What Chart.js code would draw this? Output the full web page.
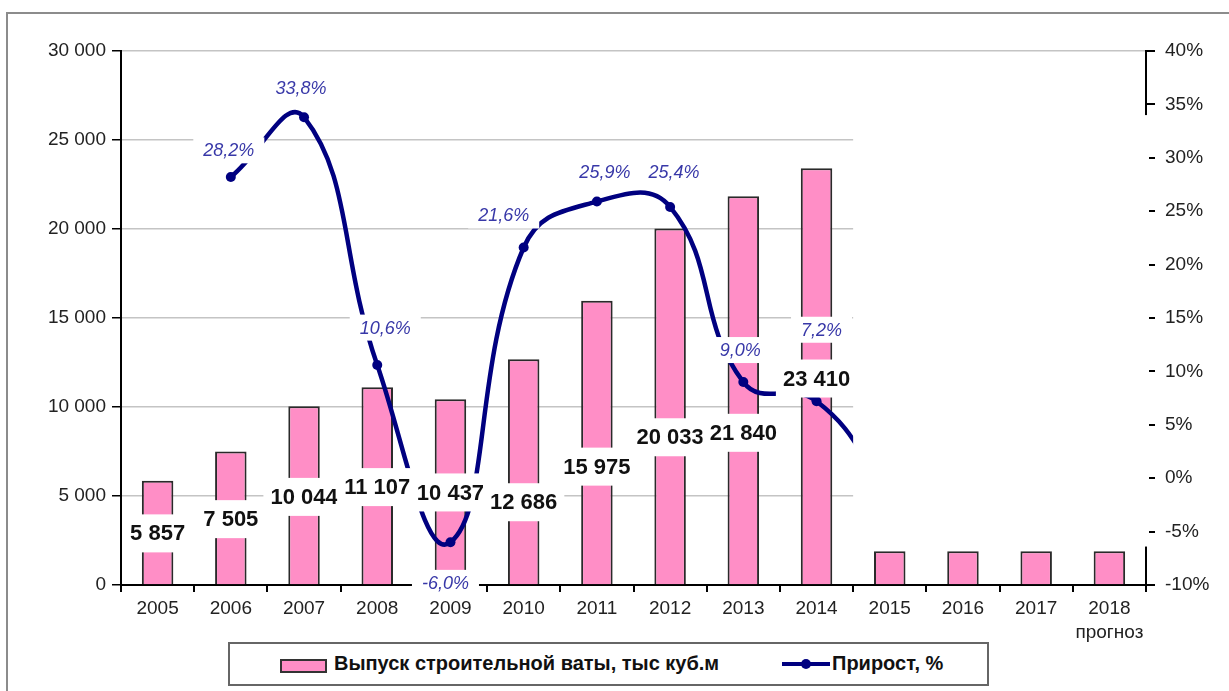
<!DOCTYPE html>
<html>
<head>
<meta charset="utf-8">
<script src="https://cdn.jsdelivr.net/npm/chart.js@4.4.1/dist/chart.umd.min.js"></script>
<style>
  body { margin: 0; background: #fff; }
  #wrap { position: relative; width: 1229px; height: 691px; overflow: hidden; background: #fff; }
  #frame { position: absolute; left: 6px; top: 12px; width: 1260px; height: 720px;
           border-left: 2px solid #8c8c8c; border-top: 2px solid #8c8c8c; }
  #chartBox { position: absolute; left: 0; top: 0; width: 1229px; height: 691px; }
  #legend { position: absolute; left: 228px; top: 642px; width: 757px; height: 40px;
            border: 2px solid #666; background: #fff;
            font: bold 20px "Liberation Sans", Arial, sans-serif; color: #111; }
  #legend span { position: absolute; white-space: nowrap; }
  .sw-bar { left: 50px; top: 15px; width: 43px; height: 10px; background: #ff8ec6; border: 2px solid #333; }
  .sw-line { left: 552px; top: 18px; width: 48px; height: 4px; background: #000080; }
  .sw-dot { left: 571px; top: 15px; width: 10px; height: 10px; border-radius: 50%; background: #000080; }
</style>
</head>
<body>
<div id="wrap">
  <div id="frame"></div>
  <div id="chartBox"><canvas id="chart"></canvas></div>
  <div id="legend">
    <span class="sw-bar"></span>
    <span style="left:104px;top:8px;">Выпуск строительной ваты, тыс куб.м</span>
    <span class="sw-line"></span><span class="sw-dot"></span>
    <span style="left:602px;top:8px;">Прирост, %</span>
  </div>
</div>
<script>
// data
const years = ['2005', '2006', '2007', '2008', '2009', '2010', '2011', '2012', '2013', '2014',
               '2015', '2016', '2017', ['2018', 'прогноз']];
const output = [5857, 7505, 10044, 11107, 10437, 12686, 15975, 20033, 21840, 23410, 1900, 1900, 1900, 1900];
const growth = [null, 28.2, 33.8, 10.6, -6.0, 21.6, 25.9, 25.4, 9.0, 7.2, -1.5, null, null, null];
const outputTicks = { min: 0, max: 30000, step: 5000 };
const growthTicks = { min: -10, max: 40, step: 5 };

// where the labels sit (left axis units / right axis units), as placed in the original
const outputLabelAt = [2.9, 3.7, 4.95, 5.5, 5.2, 4.65, 6.65, 8.3, 8.55, 11.6, null, null, null, null].map(v => v == null ? null : v * 1000);
const growthLabelAt = [null, 30.7, 36.5, 14.1, -9.8, 24.6, 28.7, 28.7, 12.0, 13.9];
const growthLabelDx = [0, -2, -3, 8, -5, -20, 8, 4, -3, 5];

const FONT = '"Liberation Sans", Arial, sans-serif';

function fmtThousands(v) {
  return String(v).replace(/\B(?=(\d{3})+(?!\d))/g, ' ');
}
function fmtPct(v) {
  return v.toFixed(1).replace('.', ',') + '%';
}

const labelsPlugin = {
  id: 'labels',
  afterDatasetsDraw(chart) {
    const ctx = chart.ctx;
    const x = chart.scales.x, y = chart.scales.y, y1 = chart.scales.y1;
    const area = chart.chartArea;

    // blank patch on the right, as in the source picture
    const x9 = x.getPixelForValue(9), x10 = x.getPixelForValue(10);
    const left = x9 + (x10 - x9) * 0.5;
    const top = y1.getPixelForValue(34);
    const bottom = y1.getPixelForValue(-6.4);
    ctx.save();
    ctx.fillStyle = '#fff';
    ctx.fillRect(left, top, area.right + 3 - left, bottom - top);

    ctx.textAlign = 'center';
    ctx.textBaseline = 'middle';

    // bar values
    ctx.font = 'bold 22px ' + FONT;
    output.forEach((v, i) => {
      if (outputLabelAt[i] == null) return;
      const txt = fmtThousands(v);
      const cx = x.getPixelForValue(i);
      const cy = y.getPixelForValue(outputLabelAt[i]);
      const w = ctx.measureText(txt).width + 14;
      ctx.fillStyle = '#fff';
      ctx.fillRect(cx - w / 2, cy - 19, w, 38);
      ctx.fillStyle = '#111';
      ctx.fillText(txt, cx, cy + 1);
    });

    // growth values
    ctx.font = 'italic 18px ' + FONT;
    growth.forEach((v, i) => {
      if (v == null || growthLabelAt[i] == null) return;
      const txt = fmtPct(v);
      const cx = x.getPixelForValue(i) + growthLabelDx[i];
      const cy = y1.getPixelForValue(growthLabelAt[i]);
      const w = ctx.measureText(txt).width + 20;
      ctx.fillStyle = '#fff';
      ctx.fillRect(cx - w / 2, cy - 13, w, 26);
      ctx.fillStyle = '#3838a8';
      ctx.fillText(txt, cx, cy + 1);
    });
    ctx.restore();
  }
};

Chart.defaults.font.family = FONT;
Chart.defaults.color = '#222';

new Chart(document.getElementById('chart'), {
  data: {
    labels: years,
    datasets: [
      {
        type: 'line',
        label: 'Прирост, %',
        data: growth,
        yAxisID: 'y1',
        order: 1,
        borderColor: '#000080',
        borderWidth: 4.5,
        tension: 0.45,
        pointRadius: 5,
        pointBackgroundColor: '#000080',
        pointBorderWidth: 0,
        spanGaps: false
      },
      {
        type: 'bar',
        label: 'Выпуск строительной ваты, тыс куб.м',
        data: output,
        yAxisID: 'y',
        order: 2,
        backgroundColor: '#ff8ec6',
        borderColor: '#2a2a2a',
        borderWidth: 2,
        categoryPercentage: 1,
        barPercentage: 0.43
      }
    ]
  },
  options: {
    responsive: true,
    maintainAspectRatio: false,
    animation: false,
    layout: { padding: { top: 51, left: 0, right: 0, bottom: 0 } },
    plugins: {
      legend: { display: false },
      tooltip: { enabled: false }
    },
    scales: {
      x: {
        offset: true,
        grid: { offset: true, drawOnChartArea: false, drawTicks: true, tickLength: 7, tickColor: '#000', lineWidth: 2 },
        border: { color: '#000', width: 2 },
        ticks: { font: { size: 19, lineHeight: 1.25 }, color: '#222', padding: 5, maxRotation: 0, autoSkip: false },
        afterFit(s) { s.height = 106; }
      },
      y: {
        position: 'left',
        min: outputTicks.min,
        max: outputTicks.max,
        grid: { color: '#c4c4c4', lineWidth: 1.5, tickColor: '#000', tickLength: 9, lineWidth: 1.5 },
        border: { color: '#000', width: 2 },
        ticks: {
          stepSize: outputTicks.step,
          font: { size: 19 },
          color: '#222',
          padding: 6,
          callback: v => fmtThousands(v)
        },
        afterFit(s) { s.width = 121; }
      },
      y1: {
        position: 'right',
        min: growthTicks.min,
        max: growthTicks.max,
        grid: { drawOnChartArea: false, tickColor: '#000', tickLength: 9, lineWidth: 2 },
        border: { color: '#000', width: 2 },
        ticks: {
          stepSize: growthTicks.step,
          font: { size: 19 },
          color: '#222',
          padding: 10,
          callback: v => v + '%'
        },
        afterFit(s) { s.width = 83; }
      }
    }
  },
  plugins: [labelsPlugin]
});
</script>
</body>
</html>
